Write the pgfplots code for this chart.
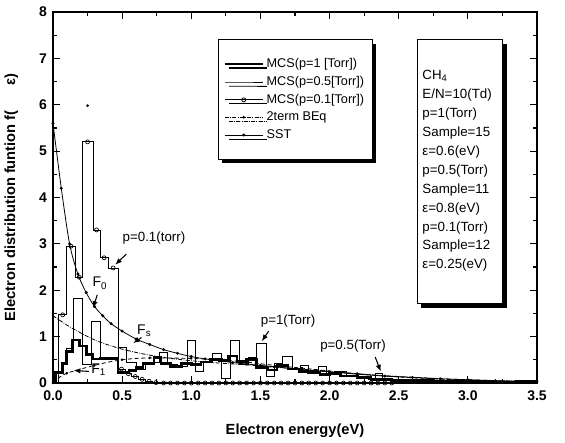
\documentclass[border=0pt]{standalone}
\usepackage{fontspec}
\setmainfont{Liberation Sans}
\usepackage{pgfplots}
\pgfplotsset{compat=1.18}
\usetikzlibrary{arrows.meta,shadows}

\begin{document}
\begin{tikzpicture}
\path[use as bounding box] (-39.75pt,-45pt) rectangle (384pt,287.25pt);
\begin{axis}[
  scale only axis, width=363pt, height=278.25pt,
  xmin=0, xmax=3.5, ymin=0, ymax=8,
  xtick={0,0.5,1,1.5,2,2.5,3,3.5}, ytick={0,1,2,3,4,5,6,7,8},
  minor x tick num=1, minor y tick num=1,
  tick align=inside, axis line style={line width=1pt},
  major tick length=5pt, minor tick length=3pt,
  every tick/.style={line width=0.9pt},
  /pgf/number format/assume math mode=true,
  xticklabel style={yshift=-2.5pt, /pgf/number format/.cd, fixed, fixed zerofill, precision=1},
  yticklabel style={xshift=-1pt},
  tick label style={font=\bfseries\fontsize{10.5}{12}\selectfont},
  xlabel={Electron energy(eV)},
  ylabel={Electron distribution funtion f(\hspace{1.7em}ε)},
  label style={font=\bfseries\fontsize{11}{13}\selectfont},
  xlabel style={at={(axis description cs:0.5,-0.128)}, anchor=center},
  ylabel style={at={(axis description cs:-0.086,0.5)}, anchor=center},
  legend style={at={(axis cs:1.19,7.41)}, anchor=north west, draw=black,
    line width=0.8pt, fill=white, inner ysep=12pt, inner xsep=4pt,
    drop shadow={shadow xshift=3pt, shadow yshift=-3pt, opacity=1, fill=black},
    font=\fontsize{9.5}{11}\selectfont, cells={anchor=west}, row sep=1pt},
  legend image code/.code={\draw[mark repeat=2,mark phase=2,#1] plot coordinates {(0cm,0cm) (0.5cm,0cm) (1cm,0cm)};},
]
\addlegendimage{line width=2pt}
\addlegendentry{MCS(p=1  [Torr])}
\addlegendimage{line width=0.6pt}
\addlegendentry{MCS(p=0.5[Torr])}
\addlegendimage{line width=0.6pt, mark=o, mark size=1.5pt, mark options={fill=white}}
\addlegendentry{MCS(p=0.1[Torr])}
\addlegendimage{line width=0.6pt, densely dashdotted, mark=*, mark size=0.8pt}
\addlegendentry{2term BEq}
\addlegendimage{line width=0.6pt, mark=*, mark size=0.8pt}
\addlegendentry{SST}

% 2-term Boltzmann, F0 and F1
\addplot[forget plot, line width=0.6pt, densely dashdotted, smooth] coordinates {
(0,1.45) (0.1,1.25) (0.2,1.08) (0.3,0.93) (0.4,0.82) (0.5,0.73) (0.6,0.66) (0.7,0.6)
(0.8,0.55) (1.0,0.48) (1.2,0.43) (1.4,0.39) (1.6,0.34) (1.8,0.3) (2.0,0.25) (2.2,0.2)
(2.5,0.14) (3.0,0.07) (3.5,0.03)};
\addplot[forget plot, line width=0.6pt, densely dashed, smooth, mark=*, mark size=0.7pt, mark repeat=2] coordinates {
(0,0) (0.05,0.13) (0.1,0.21) (0.2,0.3) (0.3,0.38) (0.4,0.45) (0.5,0.5) (0.6,0.53)
(0.7,0.54) (0.8,0.54) (1.0,0.53) (1.2,0.5) (1.4,0.45) (1.6,0.38) (1.8,0.32) (2.0,0.26)
(2.2,0.2) (2.5,0.13) (3.0,0.06) (3.5,0.02)};
% SST
\addplot[forget plot, line width=0.6pt, smooth, mark=*, mark size=0.8pt] coordinates {
(0,5.6) (0.06,4.2) (0.12,3.0) (0.18,2.35) (0.24,1.95) (0.3,1.65) (0.36,1.45) (0.42,1.28)
(0.5,1.12) (0.6,0.95) (0.7,0.83) (0.8,0.72) (0.9,0.64) (1.0,0.57) (1.1,0.52) (1.2,0.48)
(1.3,0.44) (1.4,0.41) (1.5,0.38) (1.6,0.35) (1.7,0.32) (1.8,0.29) (1.9,0.26) (2.0,0.24)
(2.2,0.19) (2.4,0.15) (2.6,0.12) (2.8,0.09) (3.0,0.07) (3.2,0.05) (3.5,0.03)};

% MCS p=0.5
\addplot[forget plot, line width=0.6pt, const plot] coordinates {
(0.02,0) (0.02,0.25) (0.07,0.45) (0.10,0.75) (0.15,1.83) (0.21,0.40) (0.28,1.32) (0.34,0.52)
(0.47,0.76) (0.53,0.45) (0.60,0.30) (0.67,0.45) (0.77,0.65) (0.83,0.40) (0.90,0.35)
(0.97,0.92) (1.03,0.24) (1.09,0.45) (1.15,0.64) (1.22,0.10) (1.28,0.92) (1.35,0.40)
(1.41,0.55) (1.47,0.85) (1.54,0.15) (1.60,0.42) (1.66,0.58) (1.73,0.30) (1.79,0.38)
(1.85,0.28) (1.92,0.35) (1.98,0.20) (2.05,0.25) (2.12,0.15) (2.20,0.12) (2.28,0.08)
(2.33,0.20) (2.38,0.08) (2.45,0.05) (2.60,0.06) (2.80,0.03) (3.00,0.02) (3.50,0.02)};

% MCS p=0.1
\addplot[forget plot, line width=0.6pt, const plot] coordinates {
(0.04,0) (0.04,1.47) (0.10,2.95) (0.165,2.28) (0.21,5.20) (0.29,3.30) (0.34,2.70)
(0.40,2.48) (0.47,0.30) (0.52,0.20) (0.57,0.14) (0.62,0.08) (0.67,0.04) (0.72,0.01)
(0.77,0) (2.45,0)};
\addplot[forget plot, only marks, mark=o, mark size=1.5pt, line width=0.5pt, mark options={fill=white}] coordinates {
(0.07,1.47) (0.13,2.95) (0.19,2.28) (0.25,5.20) (0.315,3.30) (0.37,2.70) (0.435,2.48)
(0.495,0.30) (0.545,0.20) (0.595,0.14) (0.645,0.08) (0.695,0.04) (0.745,0.01)
(0.80,0) (0.85,0) (0.90,0) (0.95,0) (1.00,0) (1.05,0) (1.10,0) (1.15,0) (1.20,0) (1.25,0)
(1.30,0) (1.35,0) (1.40,0) (1.45,0) (1.50,0) (1.55,0) (1.60,0) (1.65,0) (1.70,0) (1.75,0)
(1.80,0) (1.85,0) (1.90,0) (1.95,0) (2.00,0) (2.05,0) (2.10,0) (2.15,0) (2.20,0) (2.25,0)
(2.30,0) (2.35,0) (2.40,0) (2.45,0)};
\addplot[forget plot, only marks, mark=*, mark size=0.8pt] coordinates {(0.25,5.98)};

% MCS p=1
\addplot[forget plot, line width=2pt, const plot] coordinates {
(0.00,0) (0.02,0.22) (0.07,0.42) (0.10,0.68) (0.14,0.93) (0.19,0.80) (0.24,0.62)
(0.29,0.52) (0.34,0.53) (0.47,0.22) (0.55,0.27) (0.60,0.33) (0.65,0.42) (0.73,0.55)
(0.78,0.42) (0.85,0.36) (0.93,0.42) (1.00,0.40) (1.07,0.45) (1.14,0.50) (1.22,0.48)
(1.27,0.58) (1.33,0.47) (1.40,0.50) (1.47,0.33) (1.55,0.28) (1.62,0.38) (1.70,0.30)
(1.78,0.25) (1.85,0.22) (1.93,0.18) (2.00,0.20) (2.08,0.15) (2.20,0.12) (2.30,0.08)
(2.45,0.06) (2.60,0.05) (2.75,0.04) (2.90,0.03) (3.05,0.04) (3.20,0.02) (3.35,0.03) (3.50,0.03)};

% annotations
\node[font=\fontsize{10}{12}\selectfont] at (axis cs:0.73,3.12) {p=0.1(torr)};
\draw[-{Latex[length=5pt,width=4pt]}, line width=0.8pt] (axis cs:0.53,2.78) -- (axis cs:0.45,2.55);
\node[font=\fontsize{10.5}{12}\selectfont] at (axis cs:0.34,2.15) {F\textsubscript{0}};
\draw[-{Latex[length=5pt,width=4pt]}, line width=0.8pt] (axis cs:0.32,1.9) -- (axis cs:0.29,1.62);
\node[font=\fontsize{10.5}{12}\selectfont] at (axis cs:0.66,1.12) {F\textsubscript{s}};
\draw[-{Latex[length=5pt,width=4pt]}, line width=0.8pt] (axis cs:0.64,0.98) -- (axis cs:0.58,0.86);
\node[font=\fontsize{10.5}{12}\selectfont] at (axis cs:0.33,0.28) {F\textsubscript{1}};
\draw[-{Latex[length=5pt,width=4pt]}, line width=0.8pt] (axis cs:0.26,0.25) -- (axis cs:0.15,0.27);
\node[font=\fontsize{10}{12}\selectfont] at (axis cs:1.70,1.33) {p=1(Torr)};
\draw[-{Latex[length=5pt,width=4pt]}, line width=0.8pt] (axis cs:1.56,1.12) -- (axis cs:1.51,0.9);
\node[font=\fontsize{10}{12}\selectfont] at (axis cs:2.17,0.80) {p=0.5(Torr)};
\draw[-{Latex[length=5pt,width=4pt]}, line width=0.8pt] (axis cs:2.33,0.56) -- (axis cs:2.37,0.25);

% info box
\node[draw, line width=0.8pt, fill=white, anchor=north west, minimum width=64pt, minimum height=198pt,
  drop shadow={shadow xshift=3pt, shadow yshift=-3pt, opacity=1, fill=black}] at (axis cs:2.63,7.41) {};
\node[anchor=north west, align=left, font=\fontsize{10}{14.2}\selectfont, inner sep=0pt] at (axis cs:2.67,6.75)
  {CH\textsubscript{4}\\E/N=10(Td)\\p=1(Torr)\\Sample=15\\ε=0.6(eV)\\p=0.5(Torr)\\Sample=11\\ε=0.8(eV)\\p=0.1(Torr)\\Sample=12\\ε=0.25(eV)};
\end{axis}
\end{tikzpicture}
\end{document}
